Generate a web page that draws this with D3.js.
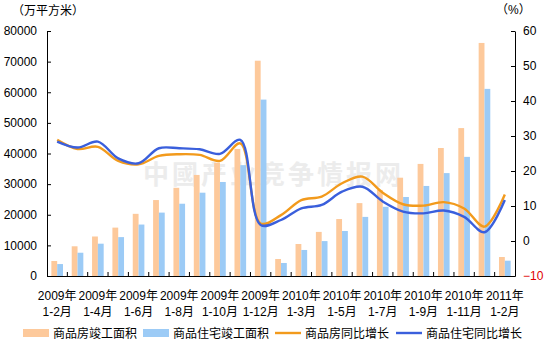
<!DOCTYPE html>
<html>
<head>
<meta charset="utf-8">
<script src="https://cdn.jsdelivr.net/npm/d3@7"></script>
<style>
  html, body { margin: 0; padding: 0; background: #fff; }
  svg { display: block; }
  text { font-family: "Liberation Sans", Arial, "Noto Sans CJK SC", sans-serif; font-size: 12px; fill: #000; }
  .cjk { font-family: "Liberation Sans", "Noto Sans CJK SC", sans-serif; }
</style>
</head>
<body>
<svg id="chart" width="548" height="348"></svg>
<script>
// Periods (cumulative months) on the category axis
const periods = [
  "2009年1-2月","2009年1-3月","2009年1-4月","2009年1-5月","2009年1-6月","2009年1-7月",
  "2009年1-8月","2009年1-9月","2009年1-10月","2009年1-11月","2009年1-12月",
  "2010年1-2月","2010年1-3月","2010年1-4月","2010年1-5月","2010年1-6月","2010年1-7月",
  "2010年1-8月","2010年1-9月","2010年1-10月","2010年1-11月","2010年1-12月",
  "2011年1-2月"
];
// Completed floor area, 10k m²
const completedAll = [4900, 9700, 12900, 15800, 20300, 24800, 28800, 33000, 37000, 41500, 70300,
  5550, 10450, 14400, 18600, 23800, 28100, 32100, 36600, 41800, 48300, 76100, 6200];
const completedRes = [3900, 7600, 10550, 12700, 16800, 20700, 23600, 27200, 30700, 36200, 57600,
  4250, 8500, 11400, 14700, 19300, 22600, 25800, 29400, 33600, 38900, 61100, 5000];
// Year-on-year growth, %
const growthAll = [28.9, 26.3, 26.9, 22.9, 21.9, 24.3, 24.8, 24.6, 22.9, 27.9, 5.0,
  7.4, 11.7, 12.7, 16.5, 18.4, 13.8, 10.5, 10.1, 11.1, 9.3, 4.1, 13.3];
const growthRes = [28.4, 26.7, 28.4, 23.6, 22.2, 26.5, 26.5, 26.2, 24.9, 28.9, 4.6,
  6.0, 9.3, 10.3, 14.1, 15.5, 11.3, 8.4, 7.9, 8.7, 6.9, 2.5, 11.7];
// Axis ticks
const leftTicks = [0, 10000, 20000, 30000, 40000, 50000, 60000, 70000, 80000];
const rightTicks = [-10, 0, 10, 20, 30, 40, 50, 60];
// Series names
const seriesNames = ["商品房竣工面积", "商品住宅竣工面积", "商品房同比增长", "商品住宅同比增长"];
const colors = ["#FDC99B", "#9CCBF6", "#F29A1C", "#3A5FDC"];

const svg = d3.select("#chart");
const plotL = 47, plotR = 515, plotT = 31, plotB = 276;

const x = d3.scaleBand().domain(periods).range([plotL, plotR]).paddingInner(0).paddingOuter(0);
const xSub = d3.scaleBand().domain([0, 1]).range([0, x.bandwidth()]).paddingInner(0).paddingOuter(0.75);
const yL = d3.scaleLinear().domain([0, 80000]).range([plotB, plotT]);
const yR = d3.scaleLinear().domain([-10, 60]).range([plotB, plotT]);

// faint watermark
svg.append("text")
  .attr("x", 143).attr("y", 184)
  .style("font-family", "'Noto Sans CJK TC', sans-serif")
  .style("font-size", "26px").style("font-weight", "bold")
  .style("letter-spacing", "3px")
  .style("fill", "#ececec")
  .text("中國产业竞争情报网");

// bars
[completedAll, completedRes].forEach((vals, s) => {
  svg.append("g").selectAll("rect").data(vals).join("rect")
    .attr("x", (d, i) => x(periods[i]) + xSub(s))
    .attr("width", xSub.bandwidth())
    .attr("y", d => yL(d))
    .attr("height", d => yL(0) - yL(d))
    .attr("fill", colors[s]);
});

// smoothed growth lines
const line = d3.line()
  .x((d, i) => x(periods[i]) + x.bandwidth() / 2)
  .y(d => yR(d))
  .curve(d3.curveCatmullRom.alpha(0.5));
[growthAll, growthRes].forEach((vals, s) => {
  svg.append("path").datum(vals)
    .attr("d", line)
    .attr("fill", "none")
    .attr("stroke", colors[2 + s])
    .attr("stroke-width", 2.4)
    .attr("stroke-linejoin", "round");
});

// left axis
const gL = svg.append("g").attr("transform", `translate(${plotL},0)`)
  .call(d3.axisLeft(yL).tickValues(leftTicks).tickSizeInner(-4).tickSizeOuter(0).tickPadding(10).tickFormat(d3.format("d")));
// right axis
const gR = svg.append("g").attr("transform", `translate(${plotR},0)`)
  .call(d3.axisRight(yR).tickValues(rightTicks).tickSizeInner(-4).tickSizeOuter(0).tickPadding(8).tickFormat(d3.format("d")));
gR.selectAll(".tick text").filter(d => d < 0).style("fill", "#e00000");
// category axis
const gX = svg.append("g").attr("transform", `translate(0,${plotB})`)
  .call(d3.axisBottom(x).tickValues([]).tickSizeOuter(0));
gX.selectAll("line.bnd").data(periods.slice(1)).join("line")
  .attr("class", "bnd")
  .attr("x1", d => x(d)).attr("x2", d => x(d))
  .attr("y1", 0).attr("y2", -4)
  .attr("stroke", "#000");

[gL, gR, gX].forEach(g => {
  g.selectAll("path.domain").attr("stroke", "#000").attr("stroke-width", 1);
  g.selectAll(".tick line").attr("stroke", "#000");
  g.selectAll(".tick text").style("font-size", "12px")
    .style("font-family", "'Liberation Sans', Arial, sans-serif");
});

// two-line category labels on every other period
const labelled = periods.filter((p, i) => i % 2 === 0);
const xl = svg.append("g");
labelled.forEach(p => {
  const cx = x(p) + x.bandwidth() / 2;
  const m = p.match(/^(\d+年)(.*)$/);
  const t = xl.append("text").attr("class", "cjk").attr("text-anchor", "middle");
  t.append("tspan").attr("x", cx).attr("y", 300).text(m[1]);
  t.append("tspan").attr("x", cx).attr("y", 316).text(m[2]);
});

// unit captions
svg.append("text").attr("class", "cjk").attr("x", 12).attr("y", 15).text("（万平方米）");
svg.append("text").attr("class", "cjk").attr("x", 496).attr("y", 14).text("（%）");

// legend
const legend = svg.append("g");
const items = [
  { x: 23, type: "rect" },
  { x: 143, type: "rect" },
  { x: 275, type: "line" },
  { x: 396, type: "line" }
];
items.forEach((it, k) => {
  if (it.type === "rect") {
    legend.append("rect").attr("x", it.x).attr("y", 329).attr("width", 26).attr("height", 8).attr("fill", colors[k]);
  } else {
    legend.append("line").attr("x1", it.x).attr("x2", it.x + 26).attr("y1", 333).attr("y2", 333)
      .attr("stroke", colors[k]).attr("stroke-width", 2.4);
  }
  legend.append("text").attr("class", "cjk").attr("x", it.x + 30).attr("y", 338).text(seriesNames[k]);
});
</script>
</body>
</html>
